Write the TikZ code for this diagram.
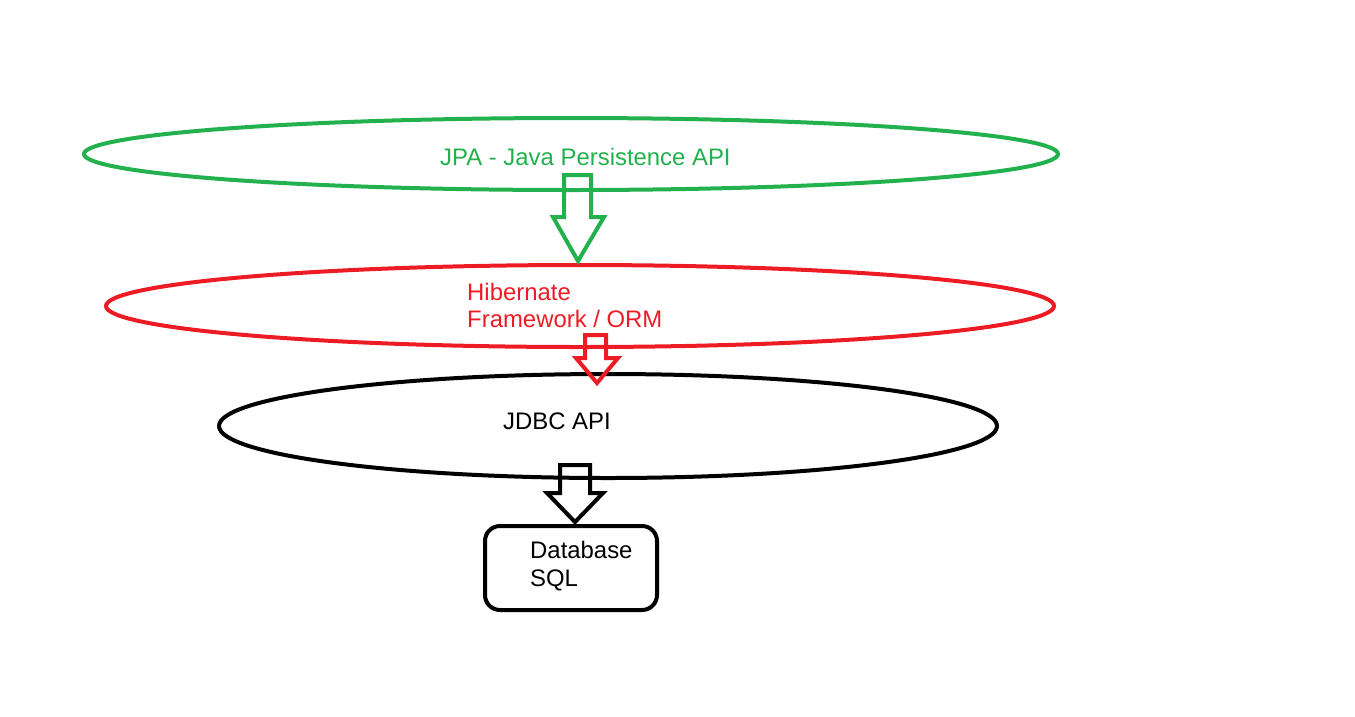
\documentclass[tikz,border=0pt]{standalone}
\usepackage{fontspec}
\setmainfont{Liberation Sans}
\definecolor{jpagreen}{RGB}{34,177,76}
\definecolor{hibred}{RGB}{237,28,36}
\begin{document}
\begin{tikzpicture}[x=1pt,y=-1pt,
  blockarrow/.style={line width=4pt, line join=miter},
  lbl/.style={anchor=base west, inner sep=0pt, font=\fontsize{23.9}{27}\selectfont}]
\useasboundingbox (0,0) rectangle (1355,716);
% layers
\draw[jpagreen, line width=4pt] (571,154) ellipse [x radius=487, y radius=36];
\draw[hibred, line width=4pt] (580,306) ellipse [x radius=474, y radius=41];
\draw[black, line width=4pt] (608,426) ellipse [x radius=389, y radius=52];
\coordinate (jpa) at (571,154);
\coordinate (hib) at (580,306);
\coordinate (jdbc) at (608,426);
% database box
\draw[line width=4pt, rounded corners=15pt] (485,526) rectangle (657,610);
\coordinate (db) at (571,568);
% texts
\node[lbl, text=jpagreen] (tjpa) at (440,165) {JPA - Java Persistence API};
\node[lbl, text=hibred] (thib1) at (467,300) {Hibernate};
\node[lbl, text=hibred] (thib2) at (467,327) {Framework / ORM};
\node[lbl] (tjdbc) at (503,429) {JDBC API};
\node[lbl] (tdb1) at (530,558) {Database};
\node[lbl] (tdb2) at (530,586) {SQL};
% block arrows
\draw[blockarrow, jpagreen] (564,217) -- (564,175) -- (591,175) -- (591,217) -- (604,217) -- (578,261) -- (553,217) -- cycle;
\draw[blockarrow, hibred] (585,358) -- (585,335) -- (606,335) -- (606,358) -- (618,358) -- (597,383) -- (576,358) -- cycle;
\draw[blockarrow, black] (560,493) -- (560,465) -- (590,465) -- (590,493) -- (603,493) -- (575,522) -- (547,493) -- cycle;
\end{tikzpicture}
\end{document}
